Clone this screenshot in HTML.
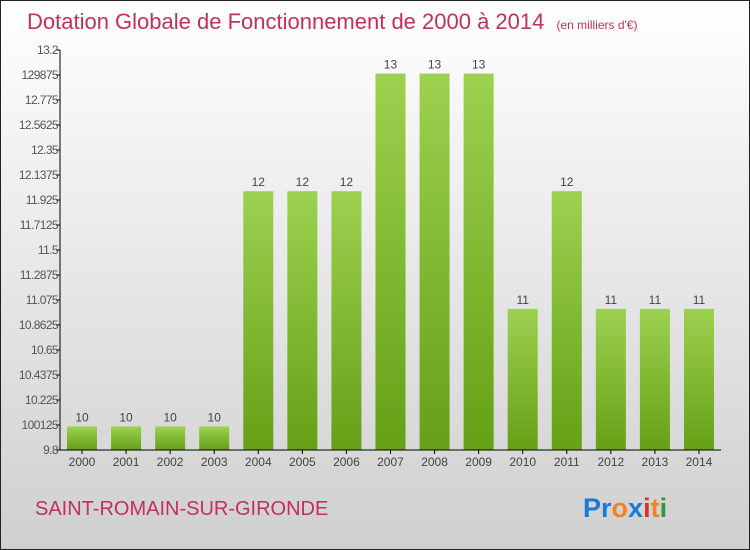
<!DOCTYPE html>
<html><head><meta charset="utf-8"><style>
body{margin:0;width:750px;height:550px;overflow:hidden;font-family:"Liberation Sans","DejaVu Sans",sans-serif}
svg{display:block}
</style></head><body>
<svg width="750" height="550">
<defs>
<linearGradient id="bg" x1="0" y1="0" x2="0" y2="1"><stop offset="0" stop-color="#ffffff"/><stop offset="1" stop-color="#cfcfcf"/></linearGradient>
<linearGradient id="bar" x1="0" y1="0" x2="0" y2="1"><stop offset="0" stop-color="#9dd150"/><stop offset="1" stop-color="#65a016"/></linearGradient>
</defs>
<rect x="0.5" y="0.5" width="749" height="549" fill="url(#bg)" stroke="#222"/>
<text x="27" y="29" font-size="22" fill="#c42f5c">Dotation Globale de Fonctionnement de 2000 à 2014 <tspan font-size="12" dx="6">(en milliers d'€)</tspan></text>
<g id="yaxis"></g>
<g id="bars"></g>
<line x1="60" y1="50" x2="60" y2="450" stroke="#000"/>
<line x1="60" y1="450" x2="721" y2="450" stroke="#000"/>
<text x="35" y="515" font-size="20" fill="#c42f5c">SAINT-ROMAIN-SUR-GIRONDE</text>
<text x="583" y="517" font-size="27" font-weight="bold"><tspan fill="#1a7ad4">Pr</tspan><tspan fill="#f58220">o</tspan><tspan fill="#1a7ad4">x</tspan><tspan fill="#e03020">i</tspan><tspan fill="#f58220">t</tspan><tspan fill="#2a9a40">i</tspan></text>
</svg>
<script>
const years=["2000","2001","2002","2003","2004","2005","2006","2007","2008","2009","2010","2011","2012","2013","2014"];
const values=[10,10,10,10,12,12,12,13,13,13,11,12,11,11,11];
const labels=["10","10","10","10","12","12","12","13","13","13","11","12","11","11","11"];
const yTicks=["9.8","100125","10.225","10.4375","10.65","10.8625","11.075","11.2875","11.5","11.7125","11.925","12.1375","12.35","12.5625","12.775","129875","13.2"];
const yMin=9.8,yMax=13.2;
const NS="http://www.w3.org/2000/svg";
function y(v){return 450-(v-yMin)/(yMax-yMin)*400;}
function x(i){return 82+i*44.07;}
const ya=document.getElementById('yaxis');
yTicks.forEach((t,i)=>{
 const yy=450-i*25;
 const l=document.createElementNS(NS,'line');
 l.setAttribute('x1',56);l.setAttribute('x2',60);l.setAttribute('y1',yy);l.setAttribute('y2',yy);l.setAttribute('stroke','#000');
 
 
 ya.appendChild(l);
 const tx=document.createElementNS(NS,'text');
 tx.setAttribute('x',58);tx.setAttribute('y',yy+4);tx.setAttribute('text-anchor','end');tx.setAttribute('font-size','12');tx.setAttribute('fill','#555');tx.setAttribute('letter-spacing','-0.6');
 tx.textContent=t;
 
 
 ya.appendChild(tx);
});
const bg=document.getElementById('bars');
years.forEach((yr,i)=>{
 const cx=x(i),top=y(values[i]);
 const r=document.createElementNS(NS,'rect');
 r.setAttribute('x',cx-15);r.setAttribute('y',top);r.setAttribute('width',30);r.setAttribute('height',450-top);r.setAttribute('fill','url(#bar)');
 
 
 bg.appendChild(r);
 const v=document.createElementNS(NS,'text');
 v.setAttribute('x',cx);v.setAttribute('y',top-5);v.setAttribute('text-anchor','middle');v.setAttribute('font-size','12');v.setAttribute('fill','#444');
 v.textContent=labels[i];
 
 
 bg.appendChild(v);
 const tk=document.createElementNS(NS,'line');
 tk.setAttribute('x1',cx);tk.setAttribute('x2',cx);tk.setAttribute('y1',450);tk.setAttribute('y2',454);tk.setAttribute('stroke','#000');
 
 
 bg.appendChild(tk);
 const xl=document.createElementNS(NS,'text');
 xl.setAttribute('x',cx);xl.setAttribute('y',466);xl.setAttribute('text-anchor','middle');xl.setAttribute('font-size','12');xl.setAttribute('fill','#444');
 xl.textContent=yr;
 
 
 bg.appendChild(xl);
});
</script>
</body></html>
